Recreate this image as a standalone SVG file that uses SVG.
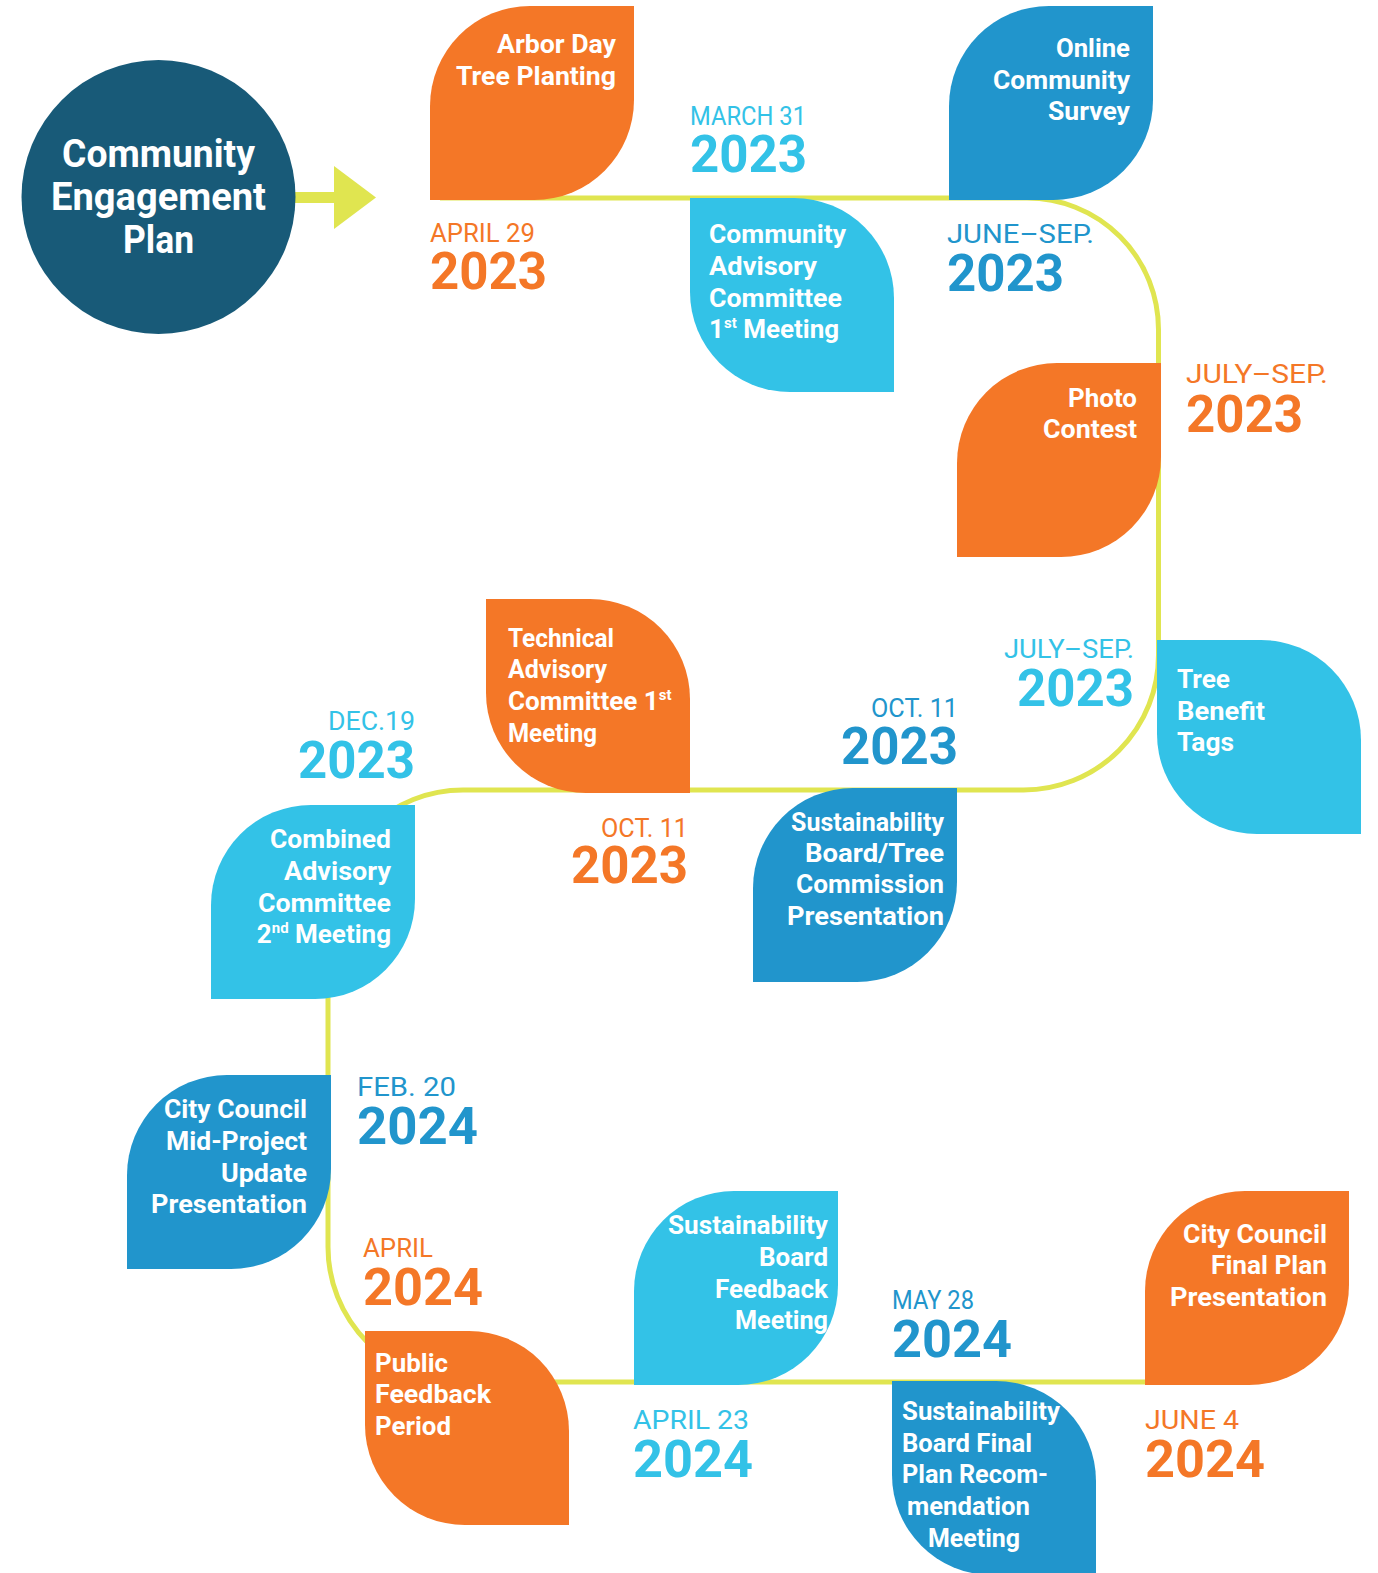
<svg xmlns="http://www.w3.org/2000/svg" width="1378" height="1573" viewBox="0 0 1378 1573">
<style>
text{font-family:Roboto,"Liberation Sans",sans-serif}
.lt{font-weight:700;font-size:26px;fill:#fff}
.ct{font-weight:700;font-size:38px;fill:#fff;text-anchor:middle}
.e{text-anchor:end}
.ds{font-weight:400;font-size:25.5px}
.dy{font-weight:700;font-size:52px}
.o{fill:#F47727}.l{fill:#33C2E7}.b{fill:#2195CC}
.sup{font-size:15px}
</style>
<defs>
<path id="leafA" d="M100,0 H204 V94 A100 100 0 0 1 104 194 H0 V100 A100 100 0 0 1 100 0 Z"/>
<path id="leafB" d="M0,0 H104 A100 100 0 0 1 204 100 V194 H100 A100 100 0 0 1 0 94 Z"/>
</defs>
<rect width="1378" height="1573" fill="#fff"/>
<g id="connectors">
<path d="M440 198 H1027 A131.5 131.5 0 0 1 1158.5 329.5 V655 A135 135 0 0 1 1023.5 790 H463 A135 135 0 0 0 328 925 V1247 A135 135 0 0 0 463 1382 H1200" fill="none" stroke="#E0E550" stroke-width="5"/>
<path d="M295 192 H334 V166 L376 197.5 L334 229 V203 H295 Z" fill="#E0E550"/>
</g>
<g id="start">
<circle cx="158.5" cy="197" r="137" fill="#185A78"/>
<text class="ct" x="158.5" y="167" textLength="193" lengthAdjust="spacingAndGlyphs">Community</text>
<text class="ct" x="158.5" y="210" textLength="215" lengthAdjust="spacingAndGlyphs">Engagement</text>
<text class="ct" x="158.5" y="253" textLength="71" lengthAdjust="spacingAndGlyphs">Plan</text>
</g>
<g id="arbor-day">
<use href="#leafA" x="430" y="6" class="o"/>
<text class="lt e" x="616" y="53" textLength="119" lengthAdjust="spacingAndGlyphs">Arbor Day</text>
<text class="lt e" x="616" y="85" textLength="160" lengthAdjust="spacingAndGlyphs">Tree Planting</text>
<text class="ds o" x="430" y="242" textLength="105" lengthAdjust="spacingAndGlyphs">APRIL 29</text>
<text class="dy o" x="430" y="289" textLength="117" lengthAdjust="spacingAndGlyphs">2023</text>
</g>
<g id="community-advisory">
<use href="#leafB" x="690" y="198" class="l"/>
<text class="lt" x="709" y="243" textLength="137" lengthAdjust="spacingAndGlyphs">Community</text>
<text class="lt" x="709" y="275" textLength="108" lengthAdjust="spacingAndGlyphs">Advisory</text>
<text class="lt" x="709" y="307" textLength="133" lengthAdjust="spacingAndGlyphs">Committee</text>
<text class="lt" x="709" y="338">1<tspan class="sup" dy="-10">st</tspan><tspan dy="10"> Meeting</tspan></text>
<text class="ds l" x="690" y="125" textLength="116" lengthAdjust="spacingAndGlyphs">MARCH 31</text>
<text class="dy l" x="690" y="172" textLength="117" lengthAdjust="spacingAndGlyphs">2023</text>
</g>
<g id="online-survey">
<use href="#leafA" x="949" y="6" class="b"/>
<text class="lt e" x="1130" y="57" textLength="74" lengthAdjust="spacingAndGlyphs">Online</text>
<text class="lt e" x="1130" y="89" textLength="137" lengthAdjust="spacingAndGlyphs">Community</text>
<text class="lt e" x="1130" y="120" textLength="82" lengthAdjust="spacingAndGlyphs">Survey</text>
<text class="ds b" x="947" y="243" textLength="147" lengthAdjust="spacingAndGlyphs">JUNE–SEP.</text>
<text class="dy b" x="947" y="291" textLength="117" lengthAdjust="spacingAndGlyphs">2023</text>
</g>
<g id="photo-contest">
<use href="#leafA" x="957" y="363" class="o"/>
<text class="lt e" x="1137" y="407" textLength="69" lengthAdjust="spacingAndGlyphs">Photo</text>
<text class="lt e" x="1137" y="438" textLength="94" lengthAdjust="spacingAndGlyphs">Contest</text>
<text class="ds o" x="1186" y="383" textLength="142" lengthAdjust="spacingAndGlyphs">JULY–SEP.</text>
<text class="dy o" x="1186" y="432" textLength="117" lengthAdjust="spacingAndGlyphs">2023</text>
</g>
<g id="tree-benefit-tags">
<use href="#leafB" x="1157" y="640" class="l"/>
<text class="lt" x="1177" y="688" textLength="53" lengthAdjust="spacingAndGlyphs">Tree</text>
<text class="lt" x="1177" y="720" textLength="88" lengthAdjust="spacingAndGlyphs">Benefit</text>
<text class="lt" x="1177" y="751" textLength="57" lengthAdjust="spacingAndGlyphs">Tags</text>
<text class="ds l e" x="1134" y="658" textLength="130" lengthAdjust="spacingAndGlyphs">JULY–SEP.</text>
<text class="dy l e" x="1134" y="706" textLength="117" lengthAdjust="spacingAndGlyphs">2023</text>
</g>
<g id="sustainability-tree-commission">
<use href="#leafA" x="753" y="788" class="b"/>
<text class="lt e" x="944" y="831" textLength="153" lengthAdjust="spacingAndGlyphs">Sustainability</text>
<text class="lt e" x="944" y="862" textLength="139" lengthAdjust="spacingAndGlyphs">Board/Tree</text>
<text class="lt e" x="944" y="893" textLength="148" lengthAdjust="spacingAndGlyphs">Commission</text>
<text class="lt e" x="944" y="925" textLength="157" lengthAdjust="spacingAndGlyphs">Presentation</text>
<text class="ds b e" x="958" y="717" textLength="87" lengthAdjust="spacingAndGlyphs">OCT. 11</text>
<text class="dy b e" x="958" y="764" textLength="117" lengthAdjust="spacingAndGlyphs">2023</text>
</g>
<g id="technical-advisory">
<use href="#leafB" x="486" y="599" class="o"/>
<text class="lt" x="508" y="647" textLength="106" lengthAdjust="spacingAndGlyphs">Technical</text>
<text class="lt" x="508" y="678" textLength="99" lengthAdjust="spacingAndGlyphs">Advisory</text>
<text class="lt" x="508" y="710">Committee 1<tspan class="sup" dy="-10">st</tspan></text>
<text class="lt" x="508" y="742" textLength="89" lengthAdjust="spacingAndGlyphs">Meeting</text>
<text class="ds o e" x="688" y="837" textLength="87" lengthAdjust="spacingAndGlyphs">OCT. 11</text>
<text class="dy o e" x="688" y="883" textLength="117" lengthAdjust="spacingAndGlyphs">2023</text>
</g>
<g id="combined-advisory">
<use href="#leafA" x="211" y="805" class="l"/>
<text class="lt e" x="391" y="848" textLength="121" lengthAdjust="spacingAndGlyphs">Combined</text>
<text class="lt e" x="391" y="880" textLength="107" lengthAdjust="spacingAndGlyphs">Advisory</text>
<text class="lt e" x="391" y="912" textLength="133" lengthAdjust="spacingAndGlyphs">Committee</text>
<text class="lt e" x="391" y="943">2<tspan class="sup" dy="-10">nd</tspan><tspan dy="10"> Meeting</tspan></text>
<text class="ds l e" x="415" y="730" textLength="87" lengthAdjust="spacingAndGlyphs">DEC.19</text>
<text class="dy l e" x="415" y="778" textLength="117" lengthAdjust="spacingAndGlyphs">2023</text>
</g>
<g id="council-mid-project">
<use href="#leafA" x="127" y="1075" class="b"/>
<text class="lt e" x="307" y="1118" textLength="143" lengthAdjust="spacingAndGlyphs">City Council</text>
<text class="lt e" x="307" y="1150" textLength="141" lengthAdjust="spacingAndGlyphs">Mid-Project</text>
<text class="lt e" x="307" y="1182" textLength="86" lengthAdjust="spacingAndGlyphs">Update</text>
<text class="lt e" x="307" y="1213" textLength="156" lengthAdjust="spacingAndGlyphs">Presentation</text>
<text class="ds b" x="357" y="1096" textLength="99" lengthAdjust="spacingAndGlyphs">FEB. 20</text>
<text class="dy b" x="357" y="1144" textLength="121" lengthAdjust="spacingAndGlyphs">2024</text>
</g>
<g id="public-feedback">
<use href="#leafB" x="365" y="1331" class="o"/>
<text class="lt" x="375" y="1372" textLength="73" lengthAdjust="spacingAndGlyphs">Public</text>
<text class="lt" x="375" y="1403" textLength="116" lengthAdjust="spacingAndGlyphs">Feedback</text>
<text class="lt" x="375" y="1435" textLength="76" lengthAdjust="spacingAndGlyphs">Period</text>
<text class="ds o" x="363" y="1257" textLength="70" lengthAdjust="spacingAndGlyphs">APRIL</text>
<text class="dy o" x="363" y="1305" textLength="120" lengthAdjust="spacingAndGlyphs">2024</text>
</g>
<g id="sustainability-feedback">
<use href="#leafA" x="634" y="1191" class="l"/>
<text class="lt e" x="828" y="1234" textLength="160" lengthAdjust="spacingAndGlyphs">Sustainability</text>
<text class="lt e" x="828" y="1266" textLength="69" lengthAdjust="spacingAndGlyphs">Board</text>
<text class="lt e" x="828" y="1298" textLength="113" lengthAdjust="spacingAndGlyphs">Feedback</text>
<text class="lt e" x="828" y="1329" textLength="93" lengthAdjust="spacingAndGlyphs">Meeting</text>
<text class="ds l" x="633" y="1429" textLength="116" lengthAdjust="spacingAndGlyphs">APRIL 23</text>
<text class="dy l" x="633" y="1477" textLength="120" lengthAdjust="spacingAndGlyphs">2024</text>
</g>
<g id="sustainability-final">
<use href="#leafB" x="892" y="1381" class="b"/>
<text class="lt" x="902" y="1420" textLength="158" lengthAdjust="spacingAndGlyphs">Sustainability</text>
<text class="lt" x="902" y="1452" textLength="130" lengthAdjust="spacingAndGlyphs">Board Final</text>
<text class="lt" x="902" y="1483" textLength="146" lengthAdjust="spacingAndGlyphs">Plan Recom-</text>
<text class="lt" x="907" y="1515" textLength="123" lengthAdjust="spacingAndGlyphs">mendation</text>
<text class="lt" x="928" y="1547" textLength="92" lengthAdjust="spacingAndGlyphs">Meeting</text>
<text class="ds b" x="892" y="1309" textLength="82" lengthAdjust="spacingAndGlyphs">MAY 28</text>
<text class="dy b" x="892" y="1357" textLength="120" lengthAdjust="spacingAndGlyphs">2024</text>
</g>
<g id="council-final">
<use href="#leafA" x="1145" y="1191" class="o"/>
<text class="lt e" x="1327" y="1243" textLength="144" lengthAdjust="spacingAndGlyphs">City Council</text>
<text class="lt e" x="1327" y="1274" textLength="116" lengthAdjust="spacingAndGlyphs">Final Plan</text>
<text class="lt e" x="1327" y="1306" textLength="157" lengthAdjust="spacingAndGlyphs">Presentation</text>
<text class="ds o" x="1145" y="1429" textLength="94" lengthAdjust="spacingAndGlyphs">JUNE 4</text>
<text class="dy o" x="1145" y="1477" textLength="120" lengthAdjust="spacingAndGlyphs">2024</text>
</g>
</svg>
